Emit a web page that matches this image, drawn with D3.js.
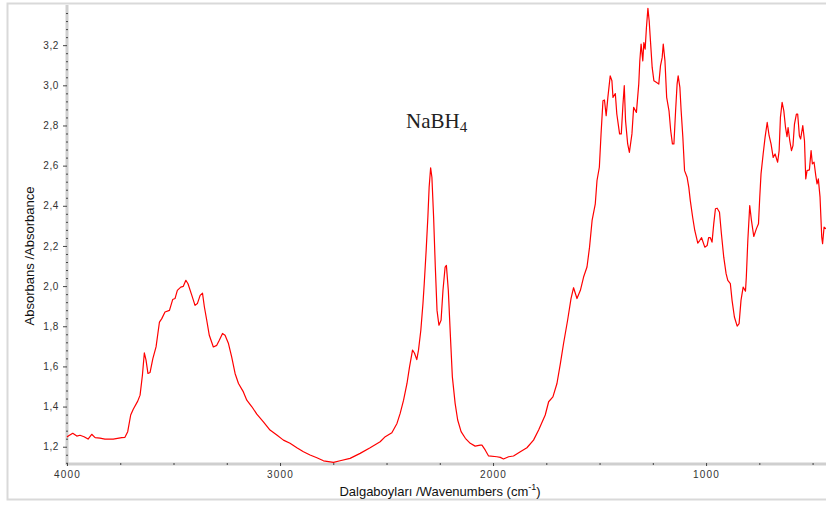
<!DOCTYPE html>
<html>
<head>
<meta charset="utf-8">
<script src="https://cdn.jsdelivr.net/npm/d3@7"></script>
<style>
  body { margin: 0; background: #fff; }
  svg { display: block; font-family: Arial, "Liberation Sans", sans-serif; }
</style>
</head>
<body>
<div class="chart"></div>
<script>
var wavenumbers = [4000,3994,3973,3954,3939,3920,3901,3884,3868,3845,3822,3783,3743,3728,3715,3701,3689,3668,3657,3646,
  3637,3629,3620,3610,3597,3582,3566,3555,3540,3519,3504,3493,3482,3466,3454,3442,3432,3414,3399,3388,
  3375,3364,3355,3344,3332,3313,3297,3285,3270,3258,3242,3227,3211,3195,3172,3156,3132,3109,3078,3047,
  3015,2984,2953,2921,2890,2859,2827,2796,2749,2718,2671,2624,2577,2530,2506,2475,2451,2436,2420,2404,
  2392,2378,2369,2358,2350,2339,2329,2323,2314,2306,2300,2293,2287,2279,2271,2263,2254,2244,2235,2225,
  2219,2210,2200,2191,2178,2166,2150,2130,2107,2084,2060,2052,2037,2021,1982,1966,1951,1927,1904,1872,
  1841,1810,1786,1755,1739,1719,1700,1684,1669,1650,1634,1622,1606,1590,1575,1559,1547,1535,1520,1512,
  1501,1493,1484,1477,1469,1461,1450,1442,1437,1426,1419,1406,1398,1390,1384,1378,1368,1360,1348,1340,
  1327,1316,1311,1305,1297,1292,1286,1280,1273,1267,1261,1253,1245,1232,1222,1214,1206,1201,1193,1185,
  1174,1166,1158,1151,1143,1136,1131,1123,1117,1109,1101,1089,1081,1074,1063,1053,1039,1030,1021,1006,
  995,988,980,972,964,956,948,937,928,917,906,898,886,878,867,854,845,836,826,815,
  811,804,795,787,776,764,754,748,742,732,723,713,704,695,685,676,664,657,651,643,
  635,627,620,615,607,599,592,585,576,570,562,556,546,538,532,526,515,507,501,493,
  485,479,473,465,457,453,446,437];

var absorbance = [1.248,1.253,1.267,1.253,1.257,1.250,1.238,1.262,1.245,1.243,1.238,1.238,1.245,1.247,1.275,1.358,1.387,1.427,1.457,1.556,
  1.667,1.631,1.565,1.570,1.639,1.697,1.821,1.838,1.871,1.879,1.933,1.938,1.979,1.995,1.999,2.029,2.012,1.954,1.904,1.913,
  1.954,1.965,1.896,1.830,1.755,1.697,1.705,1.730,1.764,1.755,1.714,1.647,1.565,1.515,1.473,1.432,1.399,1.362,1.324,1.283,
  1.258,1.233,1.217,1.195,1.175,1.159,1.145,1.130,1.122,1.130,1.142,1.167,1.195,1.225,1.250,1.270,1.316,1.366,1.432,1.515,
  1.598,1.681,1.667,1.634,1.681,1.780,1.913,2.012,2.178,2.343,2.492,2.589,2.542,2.343,2.095,1.879,1.805,1.830,1.979,2.095,
  2.103,1.979,1.747,1.548,1.416,1.333,1.275,1.242,1.217,1.203,1.208,1.208,1.184,1.154,1.150,1.147,1.139,1.150,1.154,1.175,
  1.195,1.233,1.283,1.358,1.424,1.448,1.515,1.614,1.714,1.830,1.938,1.992,1.938,1.979,2.045,2.095,2.194,2.327,2.410,2.526,
  2.592,2.758,2.923,2.927,2.849,2.940,3.047,3.023,2.940,2.959,2.857,2.758,2.758,2.907,2.998,2.824,2.708,2.666,2.758,2.890,
  2.865,3.006,3.122,3.205,3.122,3.213,3.180,3.287,3.383,3.320,3.221,3.089,3.023,3.014,3.006,3.097,3.139,3.205,3.122,2.940,
  2.873,2.774,2.708,2.708,2.873,3.006,3.047,2.990,2.873,2.741,2.575,2.542,2.492,2.426,2.343,2.277,2.214,2.227,2.241,2.194,
  2.202,2.241,2.241,2.219,2.310,2.385,2.388,2.368,2.261,2.144,2.062,2.029,2.012,1.929,1.846,1.801,1.813,1.929,1.995,1.975,
  2.045,2.227,2.401,2.327,2.247,2.285,2.310,2.443,2.559,2.658,2.741,2.815,2.749,2.708,2.641,2.658,2.617,2.675,2.840,2.915,
  2.873,2.790,2.744,2.790,2.724,2.675,2.700,2.807,2.857,2.857,2.749,2.733,2.799,2.724,2.534,2.575,2.579,2.675,2.609,2.617,
  2.550,2.509,2.534,2.443,2.244,2.211,2.294,2.285];

var xMajorTicks = [4000, 3000, 2000, 1000];
var yMajorTicks = [1.2, 1.4, 1.6, 1.8, 2.0, 2.2, 2.4, 2.6, 2.8, 3.0, 3.2];
var title = "NaBH";
var titleSub = "4";

function init() {
    var w = 826;
    var h = 506;
    var left = 67, top = 5, bottom = 464, right = 826;

    var svg = d3.select(".chart")
        .append("svg")
        .attr("width", w)
        .attr("height", h);

    // outer light frame
    svg.append("rect")
        .attr("x", 7.5).attr("y", 3.5)
        .attr("width", w + 10).attr("height", 496)
        .attr("fill", "none")
        .attr("stroke", "#d9d9d9")
        .attr("stroke-width", 2);

    var x = d3.scaleLinear().domain([4000, 437]).range([left, right]);
    var y = d3.scaleLinear().domain([1.114, 3.4]).range([bottom, top]);

    var comma = function(d) { return d3.format(".1f")(d).replace(".", ","); };

    // minor tick values
    var xMinor = d3.range(4000, 400, -250).filter(function(d) { return xMajorTicks.indexOf(d) < 0; });
    var yMinor = d3.range(1.12, 3.4, 0.04).filter(function(d) {
        return yMajorTicks.every(function(m) { return Math.abs(m - d) > 0.005; });
    });

    // axis bars
    svg.append("line")
        .attr("x1", left).attr("x2", left).attr("y1", top).attr("y2", bottom + 1)
        .attr("stroke", "#cfcfcf").attr("stroke-width", 3);
    svg.append("line")
        .attr("x1", left - 1).attr("x2", right).attr("y1", bottom).attr("y2", bottom)
        .attr("stroke", "#cfcfcf").attr("stroke-width", 3);

    var yAxis = svg.append("g")
        .attr("transform", "translate(" + left + ",0)")
        .call(d3.axisLeft(y).tickValues(yMajorTicks).tickFormat(comma).tickSize(4).tickPadding(4));
    yAxis.select(".domain").remove();
    yAxis.selectAll("line").attr("stroke", "#444");
    yAxis.selectAll("text").attr("font-size", 10).attr("fill", "#333")
        .attr("letter-spacing", 0.6).attr("font-family", "Arial, 'Liberation Sans', sans-serif");

    var yMinorAxis = svg.append("g")
        .attr("transform", "translate(" + (left + 1) + ",0)")
        .call(d3.axisLeft(y).tickValues(yMinor).tickFormat("").tickSize(2));
    yMinorAxis.select(".domain").remove();
    yMinorAxis.selectAll("line").attr("stroke", "#444");

    var xAxis = svg.append("g")
        .attr("transform", "translate(0," + (bottom - 1) + ")")
        .call(d3.axisBottom(x).tickValues(xMajorTicks).tickFormat(d3.format("d")).tickSize(3).tickPadding(5));
    xAxis.select(".domain").remove();
    xAxis.selectAll("line").attr("stroke", "#444");
    xAxis.selectAll("text").attr("font-size", 10).attr("fill", "#333")
        .attr("letter-spacing", 1.2).attr("font-family", "Arial, 'Liberation Sans', sans-serif");

    var xMinorAxis = svg.append("g")
        .attr("transform", "translate(0," + (bottom - 1) + ")")
        .call(d3.axisBottom(x).tickValues(xMinor).tickFormat("").tickSize(2));
    xMinorAxis.select(".domain").remove();
    xMinorAxis.selectAll("line").attr("stroke", "#444");

    // spectrum
    var points = wavenumbers.map(function(d, i) { return [d, absorbance[i]]; });
    var line = d3.line()
        .x(function(d) { return x(d[0]); })
        .y(function(d) { return y(d[1]); });

    svg.append("path")
        .datum(points)
        .attr("d", line)
        .attr("fill", "none")
        .attr("stroke", "#ff0000")
        .attr("stroke-width", 1.2)
        .attr("stroke-linejoin", "round");

    // axis titles
    svg.append("text")
        .attr("transform", "translate(34,256) rotate(-90)")
        .attr("text-anchor", "middle")
        .attr("font-size", 13)
        .attr("fill", "#111")
        .text("Absorbans /Absorbance");

    var xl = svg.append("text")
        .attr("x", 440).attr("y", 496)
        .attr("text-anchor", "middle")
        .attr("font-size", 13)
        .attr("fill", "#111");
    xl.append("tspan").text("Dalgaboyları /Wavenumbers (cm");
    xl.append("tspan").attr("font-size", 9).attr("dy", -6).text("-1");
    xl.append("tspan").attr("dy", 6).text(")");

    // compound label
    var t = svg.append("text")
        .attr("x", 406).attr("y", 128)
        .attr("font-family", "'Liberation Serif', 'Times New Roman', serif")
        .attr("font-size", 21)
        .attr("fill", "#222");
    t.append("tspan").text(title);
    t.append("tspan").attr("font-size", 15).attr("dy", 4).text(titleSub);
}

init()
</script>
</body>
</html>
